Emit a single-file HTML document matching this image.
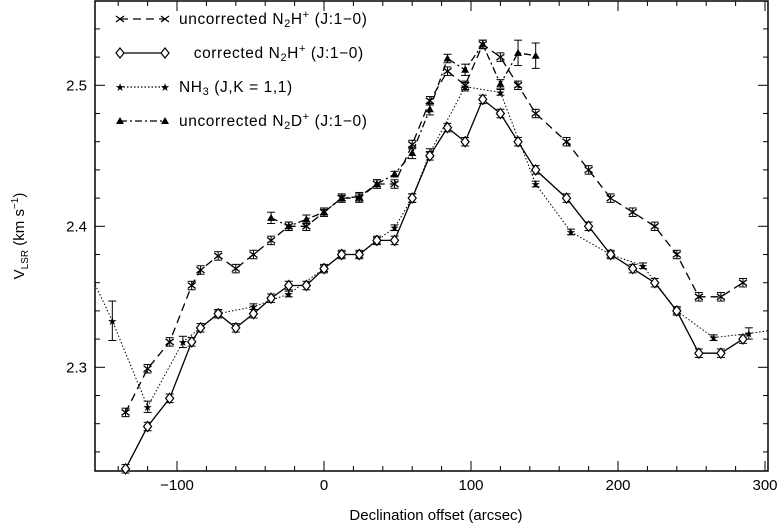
<!DOCTYPE html>
<html><head><meta charset="utf-8"><style>
html,body{margin:0;padding:0;background:#fff;}
svg{display:block;font-family:"Liberation Sans",sans-serif;}
</style></head><body>
<svg id="chart" width="781" height="526" viewBox="0 0 781 526" xmlns="http://www.w3.org/2000/svg">
<g id="axes"></g>
<g id="series"></g>
<g id="legend"></g>
<text x="436" y="520" font-size="15" text-anchor="middle">Declination offset (arcsec)</text>
<text transform="translate(24,236) rotate(-90)" font-size="15" text-anchor="middle">V<tspan font-size="10" dy="4">LSR</tspan><tspan dy="-4"> (km s</tspan><tspan font-size="10" dy="-6">−1</tspan><tspan dy="6">)</tspan></text>
</svg>
<script>
const xTicks=[-100,0,100,200,300];
const yTicks=[2.3,2.4,2.5];
const unX=[-135,-120,-105,-90,-84,-72,-60,-48,-36,-24,-12,0,12,24,36,48,60,72,84,96,108,120,132,144,165,180,195,210,225,240,255,270,285];
const unY=[2.268,2.299,2.318,2.358,2.369,2.379,2.37,2.38,2.39,2.40,2.40,2.41,2.42,2.42,2.43,2.43,2.458,2.489,2.51,2.50,2.529,2.52,2.50,2.48,2.46,2.44,2.42,2.41,2.40,2.38,2.35,2.35,2.36];
const coX=[-135,-120,-105,-90,-84,-72,-60,-48,-36,-24,-12,0,12,24,36,48,60,72,84,96,108,120,132,144,165,180,195,210,225,240,255,270,285];
const coY=[2.228,2.258,2.278,2.318,2.328,2.338,2.328,2.338,2.349,2.358,2.358,2.37,2.38,2.38,2.39,2.39,2.42,2.45,2.47,2.46,2.49,2.48,2.46,2.44,2.42,2.40,2.38,2.37,2.36,2.34,2.31,2.31,2.32];
const nhX=[-170,-144,-120,-96,-72,-48,-24,0,12,24,36,48,60,72,96,120,144,168,195,217,240,265,289,310];
const nhY=[2.39,2.333,2.272,2.318,2.338,2.343,2.352,2.37,2.38,2.38,2.39,2.399,2.42,2.452,2.499,2.495,2.43,2.396,2.38,2.372,2.34,2.321,2.324,2.327];
const nhE=[0,0.014,0.004,0.004,0.002,0.002,0.002,0.002,0.002,0.002,0.002,0.002,0.003,0.003,0.003,0.002,0.002,0.002,0.002,0.002,0.002,0.002,0.004,0];
const ndX=[-36,-24,-12,0,12,24,36,48,60,72,84,96,108,120,132,144];
const ndY=[2.406,2.40,2.405,2.41,2.42,2.421,2.43,2.437,2.452,2.483,2.519,2.511,2.529,2.501,2.523,2.521];
const ndE=[0.004,0.003,0.003,0.002,0.002,0.003,0.003,0.002,0.004,0.004,0.003,0.004,0.003,0.003,0.009,0.009];

const L=95,R=768,T=1,B=471;
const X=v=>324+(v-0)*1.47;
const Y=v=>367.3-(v-2.3)*1410;
const NS="http://www.w3.org/2000/svg";
function mk(tag,attrs,parent){const e=document.createElementNS(NS,tag);for(const k in attrs)e.setAttribute(k,attrs[k]);parent.appendChild(e);return e;}
const axes=document.getElementById('axes'),ser=document.getElementById('series'),leg=document.getElementById('legend');
const frame=mk('rect',{x:L,y:T,width:R-L,height:B-T,fill:'none',stroke:'#000','stroke-width':1.5},axes);


for(let v=-160;v<=300;v+=20){const x=X(v);if(x<L||x>R)continue;const maj=v%100===0;const len=maj?10:5;
 const t1=mk('line',{x1:x,y1:B,x2:x,y2:B-len,stroke:'#000','stroke-width':1},axes);
 
 
 const t2=mk('line',{x1:x,y1:T,x2:x,y2:T+len,stroke:'#000','stroke-width':1},axes);
 
 }
xTicks.forEach(v=>{const t=mk('text',{x:X(v),y:B+19,'font-size':15,'text-anchor':'middle'},axes);t.textContent=(v<0?'−':'')+Math.abs(v);
 
 });
for(let i=0;i<=20;i++){const v=2.22+i*0.02;const y=Y(v);if(y<T||y>B)continue;const maj=Math.abs((v*10)-Math.round(v*10))<1e-6;const len=maj?10:5;
 const t1=mk('line',{x1:L,y1:y,x2:L+len,y2:y,stroke:'#000','stroke-width':1},axes);
 
 
 const t2=mk('line',{x1:R,y1:y,x2:R-len,y2:y,stroke:'#000','stroke-width':1},axes);
 
 }
yTicks.forEach(v=>{const t=mk('text',{x:L-8,y:Y(v)+5,'font-size':15,'text-anchor':'end'},axes);t.textContent=v.toFixed(1);
 
 });

const clip=mk('clipPath',{id:'cp'},ser);mk('rect',{x:L,y:T,width:R-L,height:B-T},clip);
function line(xs,ys,dash,name){const p=mk('polyline',{points:xs.map((x,i)=>X(x)+','+Y(ys[i])).join(' '),fill:'none',stroke:'#000','stroke-width':dash==='1.5 2'?1:1.3,'stroke-dasharray':dash,'clip-path':'url(#cp)'},ser);
 
 }
function ebar(x,y,e,g){if(!e)return;const px=X(x),y1=Y(y+e),y2=Y(y-e);
 mk('line',{x1:px,y1:y1,x2:px,y2:y2,stroke:'#000'},g);mk('line',{x1:px-4,y1:y1,x2:px+4,y2:y1,stroke:'#000'},g);mk('line',{x1:px-4,y1:y2,x2:px+4,y2:y2,stroke:'#000'},g);}
function cross(px,py,g){mk('path',{d:`M${px-4},${py-3}L${px+4},${py+3}M${px-4},${py+3}L${px+4},${py-3}`,stroke:'#000','stroke-width':1.3,fill:'none'},g);}
function diamond(px,py,g){mk('path',{d:`M${px},${py-5}L${px+4},${py}L${px},${py+5}L${px-4},${py}Z`,stroke:'#000','stroke-width':1.2,fill:'#fff'},g);}
function star(px,py,g){mk('text',{x:px,y:py+4,'font-size':11,'text-anchor':'middle'},g).textContent='★';}
function tri(px,py,g){mk('path',{d:`M${px},${py-4}L${px+4},${py+3}L${px-4},${py+3}Z`,fill:'#000'},g);}
function series(xs,ys,es,dash,marker,name){line(xs,ys,dash,name+'-line');
 xs.forEach((x,i)=>{const px=X(x),py=Y(ys[i]);if(px<L||px>R)return;const g=mk('g',{},ser);
 
 
 ebar(x,ys[i],es?es[i]:0.003,g);marker(px,py,g);});}
series(nhX,nhY,nhE,'1.5 2',star,'nh3');
series(ndX,ndY,ndE,'7 3 2 3',tri,'n2dp-uncorrected');
series(unX,unY,null,'8 5',cross,'n2hp-uncorrected');
series(coX,coY,null,'',diamond,'n2hp-corrected');

const items=[['8 5',cross,'uncorrected N<tspan font-size="11" dy="3">2</tspan><tspan dy="-3">H</tspan><tspan font-size="11" dy="-6">+</tspan><tspan dy="6"> (J:1−0)</tspan>','legend-uncorrected-n2hp'],
['',diamond,'   corrected N<tspan font-size="11" dy="3">2</tspan><tspan dy="-3">H</tspan><tspan font-size="11" dy="-6">+</tspan><tspan dy="6"> (J:1−0)</tspan>','legend-corrected-n2hp'],
['1.5 2',star,'NH<tspan font-size="11" dy="3">3</tspan><tspan dy="-3"> (J,K = 1,1)</tspan>','legend-nh3'],
['7 3 2 3',tri,'uncorrected N<tspan font-size="11" dy="3">2</tspan><tspan dy="-3">D</tspan><tspan font-size="11" dy="-6">+</tspan><tspan dy="6"> (J:1−0)</tspan>','legend-uncorrected-n2dp']];
items.forEach((it,i)=>{const y=19+i*34;const g=mk('g',{},leg);
 
 
 mk('line',{x1:120,y1:y,x2:165,y2:y,stroke:'#000','stroke-width':1.3,'stroke-dasharray':it[0]},g);
 it[1](120,y,g);it[1](165,y,g);
 const t=mk('text',{x:179,y:y+5,'font-size':15.5,'letter-spacing':0.6},g);t.setAttribute('style','white-space:pre');t.innerHTML=it[2];});
</script>
</body></html>
